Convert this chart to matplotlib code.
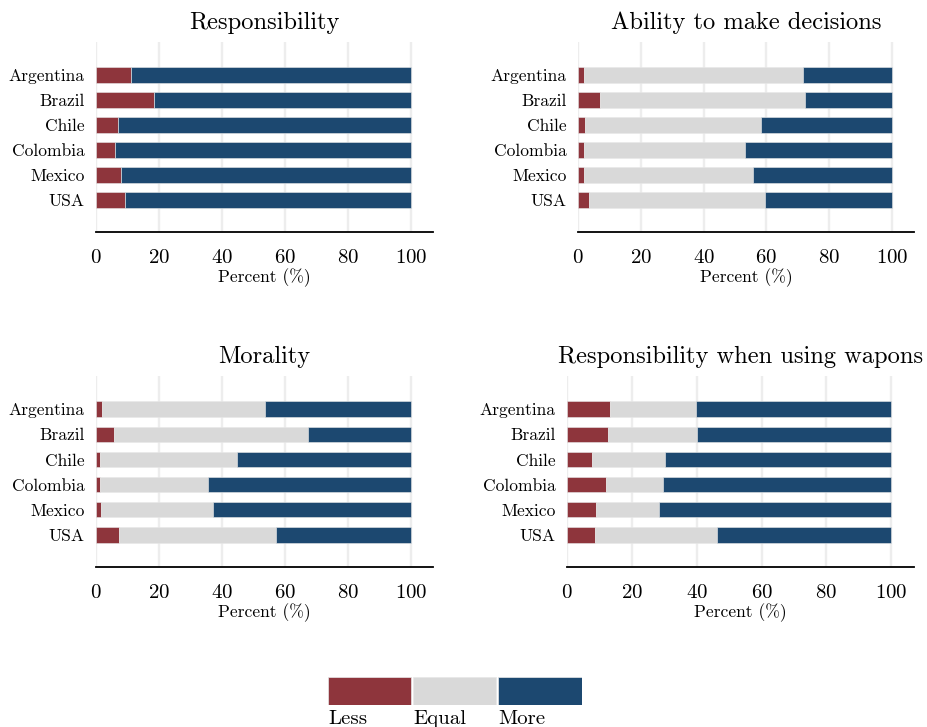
import numpy as np
import matplotlib
matplotlib.use("Agg")
import matplotlib.pyplot as plt

plt.rcParams['font.family'] = 'serif'
plt.rcParams['font.serif'] = ['cmr10', 'DejaVu Serif']
plt.rcParams['mathtext.fontset'] = 'cm'
plt.rcParams['axes.unicode_minus'] = False
plt.rcParams['axes.formatter.use_mathtext'] = True

# --- data (percent of respondents) ---
countries = ["Argentina", "Brazil", "Chile", "Colombia", "Mexico", "USA"]
categories = ["Less", "Equal", "More"]

titles = ["Responsibility", "Ability to make decisions",
          "Morality", "Responsibility when using wapons"]

resp_less = [11.1, 18.3, 7.0, 6.1, 7.8, 9.2]
resp_equal = [0.0, 0.0, 0.0, 0.0, 0.0, 0.0]
resp_more = [88.9, 81.7, 93.0, 93.9, 92.2, 90.8]

decide_less = [2.0, 7.1, 2.2, 1.9, 1.8, 3.5]
decide_equal = [69.7, 65.3, 56.1, 51.3, 53.8, 56.0]
decide_more = [28.3, 27.6, 41.7, 46.8, 44.4, 40.5]

moral_less = [1.8, 5.6, 1.2, 1.2, 1.7, 7.2]
moral_equal = [51.8, 61.6, 43.7, 34.5, 35.5, 50.1]
moral_more = [46.4, 32.8, 55.1, 64.3, 62.8, 42.7]

weapon_less = [13.3, 12.5, 7.6, 11.9, 8.9, 8.6]
weapon_equal = [26.5, 27.5, 22.7, 17.6, 19.5, 37.5]
weapon_more = [60.2, 60.0, 69.7, 70.5, 71.6, 53.9]

panels = [
    (resp_less, resp_equal, resp_more),
    (decide_less, decide_equal, decide_more),
    (moral_less, moral_equal, moral_more),
    (weapon_less, weapon_equal, weapon_more),
]

colors = ["#8E353C", "#D9D9D9", "#1C4870"]

W, H = 927, 727
fig = plt.figure(figsize=(W / 100, H / 100), dpi=100)

# axes boxes in pixels: left, right, top, bottom
boxes = [(96, 433, 42, 232), (578, 914, 42, 232),
         (96, 433, 376, 567), (567, 914, 376, 567)]

y = np.arange(len(countries))
for (l, r, t, b), title, (less, equal, more) in zip(boxes, titles, panels):
    ax = fig.add_axes([l / W, 1 - b / H, (r - l) / W, (b - t) / H])
    left = np.zeros(len(countries))
    for vals, c in zip((less, equal, more), colors):
        vals = np.array(vals)
        ax.barh(y, vals, left=left, height=0.62, color=c,
                edgecolor="#E8E8E8", linewidth=0.4, zorder=3)
        left += vals
    ax.set_xlim(0, 107)
    ax.set_ylim(len(countries) - 1 + 1.28, -1.32)
    ax.set_yticks(y)
    ax.set_yticklabels(countries, fontsize=12.6)
    ax.set_xticks(np.arange(0, 101, 20))
    ax.tick_params(axis="x", labelsize=15, length=0, pad=12.5)
    ax.tick_params(axis="y", length=0, pad=8)
    ax.grid(axis="x", color="#EDEDED", linewidth=1.7, zorder=0)
    for s in ("top", "right", "left"):
        ax.spines[s].set_visible(False)
    ax.spines["bottom"].set_linewidth(1.3)
    ax.set_xlabel("Percent (%)", fontsize=12.6, labelpad=1)
    ax.set_title(title, fontsize=17.6, pad=9)

# legend: three swatches with labels underneath
lax = fig.add_axes([328 / W, 1 - 705 / H, (582 - 328) / W, 28 / H])
lax.barh([0, 0, 0], [0.985, 0.985, 0.985], left=[0, 1.005, 2.01],
         height=1, color=colors, edgecolor="#E8E8E8", linewidth=0.5)
lax.set_xlim(0, 3)
lax.set_ylim(-0.5, 0.5)
lax.axis("off")
for i, name in enumerate(categories):
    lax.text(i * 1.005, -0.68, name, fontsize=15, ha="left", va="top")

fig.savefig("out.png", dpi=100)
